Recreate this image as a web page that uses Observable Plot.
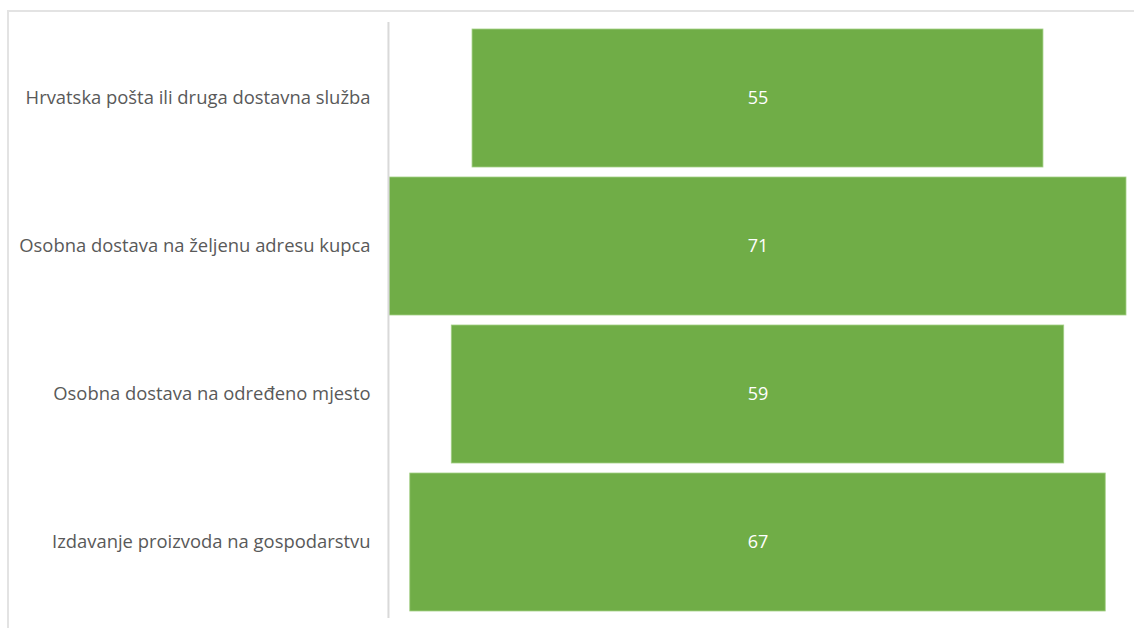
<!DOCTYPE html>
<html>
<head>
<meta charset="utf-8">
<script src="https://cdn.jsdelivr.net/npm/d3@7"></script>
<script src="https://cdn.jsdelivr.net/npm/@observablehq/plot@0.6"></script>
<style>
  html, body { margin: 0; padding: 0; background: #fff; }
  #wrap { position: relative; width: 1134px; height: 628px; overflow: hidden; }
  #frame { position: absolute; left: 7px; top: 10px; right: -10px; bottom: -10px;
           border-top: 2px solid #e3e3e3; border-left: 2px solid #e3e3e3; }
  #chart { position: absolute; left: 0; top: 0; }
</style>
</head>
<body>
<div id="wrap"><div id="frame"></div><div id="chart"></div></div>
<script>
const categories = [
  "Hrvatska pošta ili druga dostavna služba",
  "Osobna dostava na željenu adresu kupca",
  "Osobna dostava na određeno mjesto",
  "Izdavanje proizvoda na gospodarstvu"
];
const values = [55, 71, 59, 67];

const data = categories.map((c, i) => ({ category: c, value: values[i] }));
const maxV = d3.max(values);

const chart = Plot.plot({
  width: 1134,
  height: 628,
  marginLeft: 389,
  marginRight: 8,
  marginTop: 29,
  marginBottom: 17,
  style: { fontFamily: "'Open Sans', sans-serif", fontSize: "18.4px", color: "#595959", background: "transparent" },
  x: { domain: [-maxV / 2, maxV / 2], axis: null },
  y: { domain: categories, paddingInner: 0.07, paddingOuter: 0, label: null },
  marks: [
    Plot.barX(data, {
      y: "category",
      x1: d => -d.value / 2,
      x2: d => d.value / 2,
      fill: "#70ad47",
      stroke: "#a3cf86",
      strokeWidth: 0.8
    }),
    Plot.text(data, {
      y: "category",
      x: 0,
      text: d => String(d.value),
      fill: "white",
      fontSize: 18
    }),
    Plot.ruleX([-maxV / 2 - 0.1], { stroke: "#d9d9d9", strokeWidth: 2, insetTop: -7, insetBottom: -7 }),
    Plot.axisY({ tickSize: 0, tickPadding: 19, fontSize: 18.4, fill: "#595959", label: null })
  ]
});
document.getElementById("chart").appendChild(chart);
</script>
</body>
</html>
